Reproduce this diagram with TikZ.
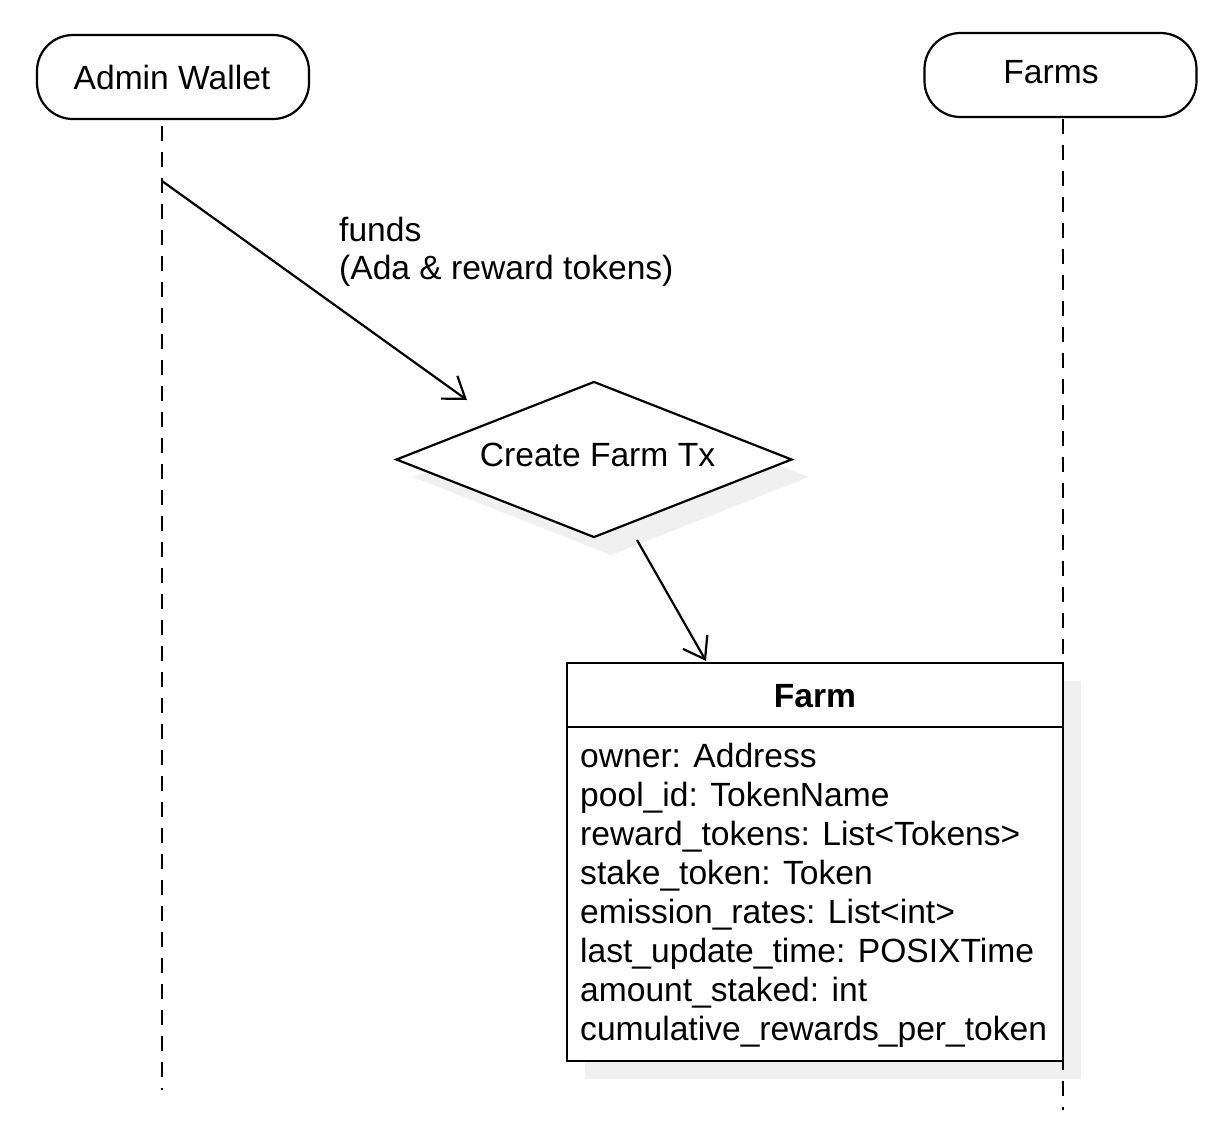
\documentclass[tikz,border=0pt]{standalone}
\usepackage{fontspec}
\setmainfont{Liberation Sans}
\usetikzlibrary{arrows.meta,shapes.geometric}
\definecolor{shadowgray}{RGB}{240,240,240}
\begin{document}
\begin{tikzpicture}[x=1pt,y=-1pt,
  txt/.style={font=\fontsize{33.6}{39}\selectfont, inner sep=0pt},
  actor/.style={draw, line width=2.2pt, rounded corners=36pt, minimum width=272pt, minimum height=84pt, inner sep=0pt},
  lifeline/.style={line width=2.2pt, dash pattern=on 15pt off 11pt},
  msg/.style={line width=2.2pt, -{Straight Barb[length=20pt,width=28pt,line width=2.2pt]}},
]
\useasboundingbox (0,0) rectangle (1224,1136);

% shadows
\fill[shadowgray] (413,477) -- (611,399) -- (809,477) -- (611,555) -- cycle;
\fill[shadowgray] (585,681) rectangle (1081,1079);

% actors
\node[actor] (admin) at (173,77) {};
\node[txt] (adminlbl) at (172,77) {Admin Wallet};
\node[actor] (farms) at (1060.5,75) {};
\node[txt] (farmslbl) at (1051,72) {Farms};

% diamond
\node[diamond, draw, fill=white, line width=2.2pt, minimum width=396pt, minimum height=156pt, aspect=2.54, inner sep=0pt] (tx) at (594,459.5) {};
\node[txt] (txlbl) at (597.5,455) {Create Farm Tx};

% farm class box
\node[draw, fill=white, line width=2.2pt, minimum width=496pt, minimum height=398pt, anchor=north west, inner sep=0pt] (farm) at (566,662) {};
\draw[line width=2.2pt] (farm.west |- 0,727) coordinate (hdrL) -- (farm.east |- 0,727) coordinate (hdrR);
\node[txt, anchor=base, font=\fontsize{33.6}{39}\selectfont\bfseries] (farmtitle) at (815,707) {Farm};
\foreach \t [count=\i] in {owner: Address, pool\_id: TokenName, reward\_tokens: List<Tokens>, stake\_token: Token, emission\_rates: List<int>, last\_update\_time: POSIXTime, amount\_staked: int, cumulative\_rewards\_per\_token}
  \node[txt, anchor=base west] (attr\i) at (580,{767+39*(\i-1)}) {\t};

% lifelines
\coordinate (adminTop) at (162,126);
\coordinate (adminBot) at (162,1090);
\coordinate (farmsTop) at (1063,119);
\coordinate (farmsBot) at (1063,1110);
\draw[lifeline] (adminTop) -- (adminBot);
\draw[lifeline] (farmsTop) -- (farmsBot);

% messages
\coordinate (m1s) at (162,181);
\coordinate (m1e) at (467,400);
\draw[msg] (m1s) -- (m1e);
\node[txt, anchor=base west] (funds1) at (339,241.5) {funds};
\node[txt, anchor=base west] (funds2) at (339,279) {(Ada \& reward tokens)};

\coordinate (m2s) at (637,540);
\coordinate (m2e) at (706,661);
\draw[msg] (m2s) -- (m2e);
\end{tikzpicture}
\end{document}
